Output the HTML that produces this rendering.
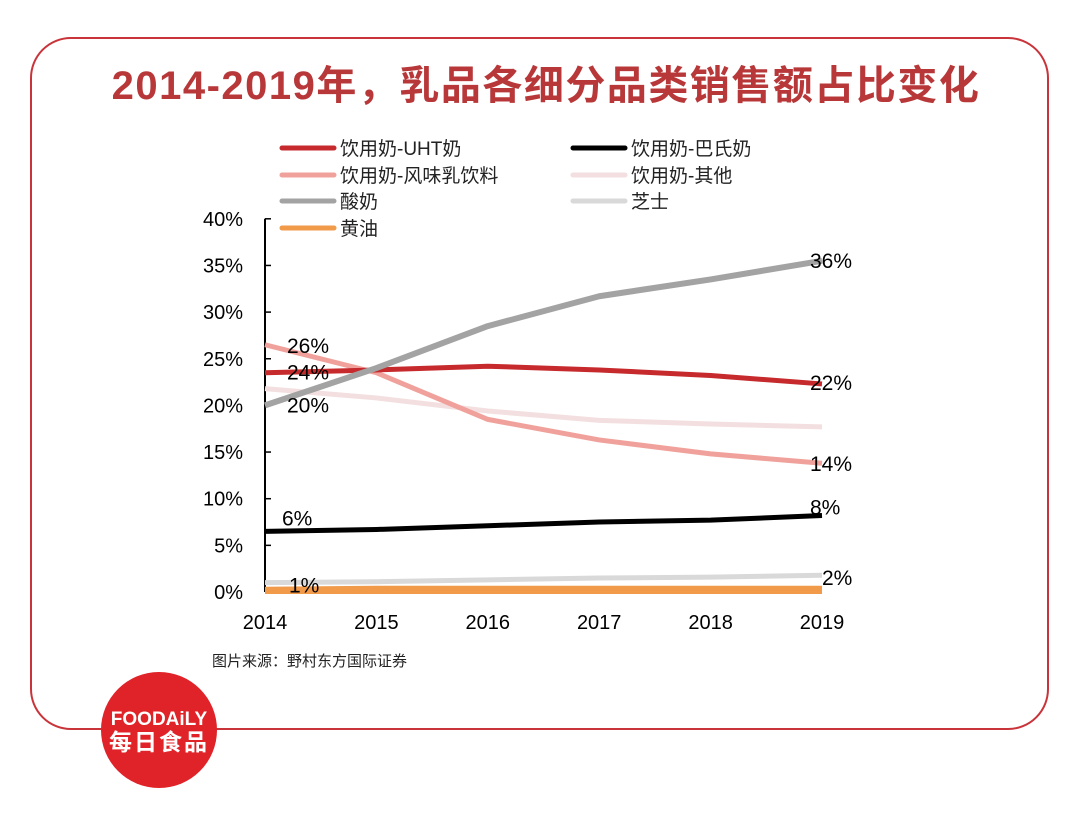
<!DOCTYPE html>
<html><head><meta charset="utf-8"><style>
body{margin:0;background:#fff;width:1080px;height:808px;overflow:hidden;font-family:"Liberation Sans","Noto Sans CJK SC",sans-serif}
</style></head><body>
<svg width="1080" height="808" xmlns="http://www.w3.org/2000/svg">
<rect x="31" y="38" width="1017" height="691" rx="40" fill="none" stroke="#c8343a" stroke-width="2"/>
<text x="546" y="99" text-anchor="middle" font-size="40" font-weight="bold" fill="#b8383a" letter-spacing="1.5" font-family="Liberation Sans,Noto Sans CJK SC,sans-serif">2014-2019年，乳品各细分品类销售额占比变化</text>
<g id="legend"></g>
<g id="axes"></g>
<g id="series"></g>
<text x="212" y="666" font-size="15" fill="#222">图片来源：野村东方国际证券</text>
<circle cx="159" cy="730" r="58" fill="#e02328"/>
<text x="159" y="725" text-anchor="middle" font-size="19" font-weight="bold" fill="#fff">FOODAiLY</text>
<text x="159" y="750" text-anchor="middle" font-size="23" font-weight="bold" fill="#fff" letter-spacing="2">每日食品</text>
</svg>
<script>
const years=["2014","2015","2016","2017","2018","2019"];
const yTicks=[0,5,10,15,20,25,30,35,40];
const uht=[23.5,23.8,24.2,23.8,23.2,22.3];
const past=[6.5,6.7,7.1,7.5,7.7,8.2];
const flav=[26.5,23.5,18.5,16.3,14.8,13.8];
const other=[21.8,20.8,19.4,18.4,18.0,17.7];
const yog=[20.0,24.0,28.5,31.7,33.5,35.5];
const cheese=[1.0,1.1,1.3,1.5,1.6,1.8];
const butter=[0.3,0.4,0.4,0.4,0.4,0.4];
const names=["饮用奶-UHT奶","饮用奶-巴氏奶","饮用奶-风味乳饮料","饮用奶-其他","酸奶","芝士","黄油"];
const colors=["#c62a2c","#000000","#f0a19b","#f3dfe0","#a3a3a3","#d9d9d9","#f09a4a"];
const NS="http://www.w3.org/2000/svg";
const x=i=>265+i*111.4, y=v=>592-v*9.33;
function mk(t,a,p){const e=document.createElementNS(NS,t);for(const k in a)e.setAttribute(k,a[k]);p.appendChild(e);return e;}
const ax=document.getElementById('axes'),sg=document.getElementById('series'),lg=document.getElementById('legend');
const yl=mk('line',{x1:265,y1:y(0),x2:265,y2:y(40),stroke:'#000','stroke-width':2},ax);


yTicks.forEach(v=>{
 const t=mk('line',{x1:265,y1:y(v),x2:271,y2:y(v),stroke:'#000','stroke-width':1.5},ax);
 
 
 const l=mk('text',{x:243,y:y(v)+7,'text-anchor':'end','font-size':20,fill:'#000'},ax);
 l.textContent=v+'%';
 
 
});
years.forEach((yr,i)=>{
 const l=mk('text',{x:x(i),y:629,'text-anchor':'middle','font-size':20,fill:'#000'},ax);
 l.textContent=yr;
 
 
});
const order=[[other,3],[cheese,5],[flav,2],[uht,0],[yog,4],[past,1],[butter,6]];
order.forEach(([d,ci])=>{
 const p=mk('polyline',{points:d.map((v,i)=>x(i)+','+y(v)).join(' '),fill:'none',stroke:colors[ci],'stroke-width':ci==4?6:5,'stroke-linejoin':'round'},sg);
 
 
});
const xl=mk('line',{x1:265,y1:y(0),x2:822,y2:y(0),stroke:'#f09a4a','stroke-width':4},ax);


const labs=[[0,uht[0],24],[0,flav[0],26],[0,yog[0],20],[0,past[0],6],[0,cheese[0],1],[5,yog[5],36],[5,uht[5],22],[5,flav[5],14],[5,past[5],8],[5,cheese[5],2]];
const offs=[[22,7],[22,8],[22,7],[17,-6],[24,10],[-12,7],[-12,6],[-12,8],[-12,-1],[0,10]];
labs.forEach(([i,v,t],k)=>{
 const l=mk('text',{x:x(i)+offs[k][0],y:y(v)+offs[k][1],'font-size':21,fill:'#000'},sg);
 l.textContent=t+'%';
 
 
});
const lx=[282,573],ly=[148,175,201,228];
names.forEach((n,k)=>{
 const c=k<6?k%2:0,r=Math.floor(k/2);
 const ln=mk('line',{x1:lx[c],y1:ly[r],x2:lx[c]+52,y2:ly[r],stroke:colors[k],'stroke-width':5,'stroke-linecap':'round'},lg);
 
 
 const t=mk('text',{x:lx[c]+58,y:ly[r]+7,'font-size':19,fill:'#222'},lg);
 t.textContent=n;
 
 
});
</script>
</body></html>
